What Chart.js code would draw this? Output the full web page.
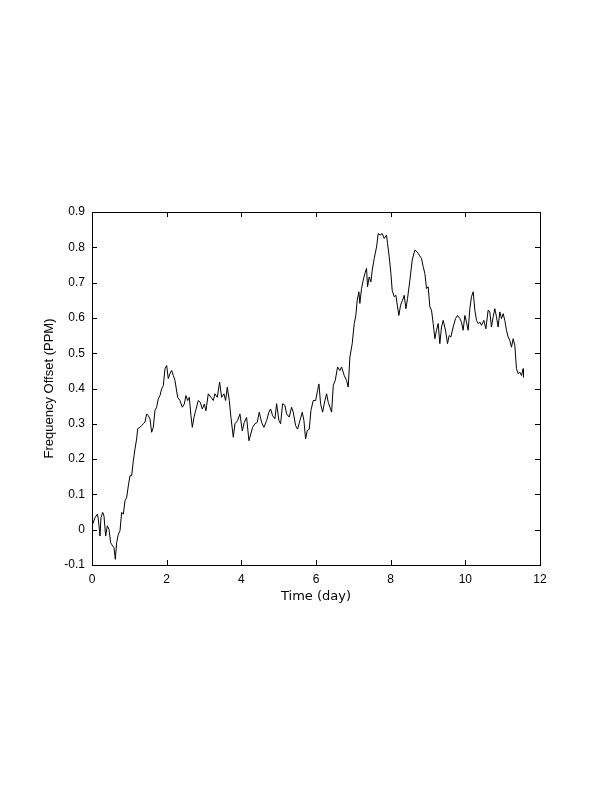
<!DOCTYPE html>
<html>
<head>
<meta charset="utf-8">
<script src="https://cdn.jsdelivr.net/npm/chart.js@4/dist/chart.umd.min.js"></script>
<style>
  html, body { margin: 0; padding: 0; background: #fff; }
  #wrap { width: 612px; height: 792px; }
</style>
</head>
<body>
<div id="wrap"><canvas id="freqChart" width="612" height="792"></canvas></div>
<script>
// time in days
const days = [
    0.018, 0.08, 0.143, 0.17, 0.214, 0.241, 0.286, 0.321, 0.366, 0.41, 0.455, 0.5, 0.553, 0.589, 0.625, 0.66,
    0.705, 0.75, 0.794, 0.839, 0.884, 0.928, 0.973, 1.017, 1.062, 1.107, 1.151, 1.196, 1.223, 1.285, 1.33,
    1.374, 1.419, 1.464, 1.508, 1.553, 1.598, 1.642, 1.687, 1.732, 1.776, 1.821, 1.865, 1.91, 1.955, 2.0,
    2.043, 2.088, 2.133, 2.178, 2.222, 2.294, 2.356, 2.419, 2.472, 2.517, 2.562, 2.606, 2.651, 2.687, 2.731,
    2.776, 2.847, 2.9, 2.954, 3.008, 3.052, 3.115, 3.186, 3.249, 3.293, 3.356, 3.418, 3.472, 3.534, 3.579,
    3.624, 3.677, 3.722, 3.784, 3.829, 3.9, 3.963, 4.025, 4.079, 4.141, 4.204,
    4.302, 4.364, 4.427, 4.48, 4.543, 4.605, 4.677, 4.739, 4.784, 4.837, 4.9, 4.945, 5.007, 5.052, 5.105,
    5.168, 5.212, 5.284, 5.346, 5.391, 5.453, 5.507, 5.57, 5.632, 5.677, 5.721, 5.766, 5.82, 5.864, 5.927,
    5.989, 6.042, 6.078, 6.123, 6.177, 6.239, 6.284, 6.328, 6.373, 6.418, 6.463, 6.516,
    6.578, 6.64, 6.685, 6.756, 6.818, 6.863, 6.908, 6.97, 7.024, 7.068, 7.104, 7.149, 7.175, 7.22, 7.265,
    7.309, 7.354, 7.381, 7.425, 7.47, 7.506, 7.559, 7.622, 7.667, 7.72, 7.774, 7.827, 7.889, 7.916, 7.961,
    8.006, 8.041, 8.095, 8.14, 8.184, 8.22, 8.265, 8.318, 8.363, 8.408, 8.452, 8.515, 8.577,
    8.648, 8.71, 8.764, 8.827, 8.871, 8.916, 8.96, 9.005, 9.05, 9.094, 9.139, 9.184, 9.228, 9.273, 9.317,
    9.362, 9.407, 9.469, 9.523, 9.567, 9.612, 9.674, 9.737, 9.79, 9.853, 9.897, 9.942, 9.987, 10.031, 10.076,
    10.121, 10.165, 10.21, 10.255, 10.299, 10.344, 10.389, 10.433, 10.496, 10.55,
    10.611, 10.656, 10.7, 10.745, 10.79, 10.834, 10.879, 10.924, 10.968, 11.013, 11.058, 11.102, 11.147,
    11.192, 11.236, 11.281, 11.326, 11.37, 11.415, 11.46, 11.504, 11.549, 11.558
];

// frequency offset in PPM
const offsets = [
    0.016, 0.034, 0.044, 0.030, -0.018, 0.034, 0.049, 0.039, -0.018, 0.011, 0.001, -0.037, -0.046, -0.051, -0.084, -0.037,
    -0.013, -0.003, 0.049, 0.044, 0.082, 0.091, 0.124, 0.153, 0.153, 0.195, 0.229, 0.257, 0.286, 0.290, 0.295,
    0.300, 0.305, 0.328, 0.323, 0.314, 0.276, 0.290, 0.338, 0.347, 0.371, 0.380, 0.399, 0.408, 0.456, 0.465,
    0.428, 0.442, 0.451, 0.437, 0.423, 0.375, 0.366, 0.347, 0.356, 0.380, 0.366, 0.375, 0.323, 0.290, 0.318,
    0.337, 0.366, 0.361, 0.342, 0.356, 0.337, 0.385, 0.375, 0.366, 0.385, 0.375, 0.418, 0.375, 0.385, 0.366,
    0.404, 0.366, 0.318, 0.262, 0.300, 0.309, 0.328, 0.280, 0.304, 0.318, 0.252,
    0.290, 0.300, 0.304, 0.333, 0.304, 0.290, 0.309, 0.333, 0.342, 0.323, 0.314, 0.357, 0.309, 0.300, 0.357,
    0.352, 0.328, 0.319, 0.347, 0.333, 0.295, 0.285, 0.309, 0.333, 0.309, 0.257, 0.281, 0.285, 0.338, 0.366,
    0.366, 0.394, 0.413, 0.357, 0.333, 0.366, 0.385, 0.361, 0.347, 0.333, 0.409, 0.423,
    0.461, 0.451, 0.461, 0.437, 0.423, 0.404, 0.489, 0.527, 0.584, 0.607, 0.650, 0.674, 0.641, 0.683, 0.707,
    0.726, 0.740, 0.688, 0.716, 0.702, 0.735, 0.768, 0.801, 0.839, 0.835, 0.839, 0.825, 0.835, 0.811, 0.773,
    0.726, 0.678, 0.660, 0.664, 0.631, 0.607, 0.636, 0.650, 0.664, 0.626, 0.655, 0.707, 0.764,
    0.792, 0.787, 0.778, 0.768, 0.745, 0.726, 0.683, 0.688, 0.631, 0.622, 0.584, 0.541, 0.565, 0.584, 0.527,
    0.574, 0.593, 0.565, 0.527, 0.550, 0.546, 0.574, 0.598, 0.607, 0.598, 0.588, 0.565, 0.607, 0.588, 0.565,
    0.626, 0.660, 0.674, 0.622, 0.593, 0.584, 0.588, 0.579, 0.593, 0.569,
    0.622, 0.617, 0.574, 0.603, 0.626, 0.603, 0.574, 0.617, 0.598, 0.612, 0.593, 0.565, 0.546,
    0.536, 0.517, 0.541, 0.522, 0.456, 0.442, 0.446, 0.437, 0.456, 0.432
];

const xTicks = [0, 2, 4, 6, 8, 10, 12];
const yTicks = [-0.1, 0, 0.1, 0.2, 0.3, 0.4, 0.5, 0.6, 0.7, 0.8, 0.9];

const points = days.map((d, i) => ({ x: d, y: offsets[i] }));

function fmtY(v) {
    if (Math.abs(v) < 1e-9) return '0';
    return (Math.round(v * 10) / 10).toString();
}

// box around the axes plus inward tick marks on all four sides
const frameTicks = {
    id: 'frameTicks',
    afterDraw(chart) {
        const { ctx, chartArea: a, scales } = chart;
        const len = 5;
        ctx.save();
        ctx.strokeStyle = '#000';
        ctx.lineWidth = 1;
        ctx.strokeRect(Math.round(a.left) + 0.5, Math.round(a.top) + 0.5,
            Math.round(a.right - a.left), Math.round(a.bottom - a.top));
        ctx.beginPath();
        xTicks.forEach(t => {
            const px = Math.round(scales.x.getPixelForValue(t)) + 0.5;
            ctx.moveTo(px, a.bottom); ctx.lineTo(px, a.bottom - len);
            ctx.moveTo(px, a.top); ctx.lineTo(px, a.top + len);
        });
        yTicks.forEach(t => {
            const py = Math.round(scales.y.getPixelForValue(t)) + 0.5;
            ctx.moveTo(a.left, py); ctx.lineTo(a.left + len, py);
            ctx.moveTo(a.right, py); ctx.lineTo(a.right - len, py);
        });
        ctx.stroke();
        ctx.restore();
    }
};

const font = { family: "'Liberation Sans', Arial, Helvetica, sans-serif", size: 12 };

new Chart(document.getElementById('freqChart'), {
    type: 'line',
    data: {
        datasets: [{
            data: points,
            borderColor: '#000',
            borderWidth: 1,
            pointRadius: 0,
            tension: 0,
            fill: false
        }]
    },
    options: {
        responsive: false,
        animation: false,
        events: [],
        layout: { padding: { left: 38, top: 212, right: 72, bottom: 184 } },
        plugins: { legend: { display: false }, tooltip: { enabled: false } },
        scales: {
            x: {
                type: 'linear',
                min: 0,
                max: 12,
                afterFit: s => { s.height = 43; },
                afterBuildTicks: s => { s.ticks = xTicks.map(v => ({ value: v })); },
                grid: { display: false, drawTicks: false },
                border: { display: false },
                ticks: { color: '#000', font: font, padding: 7, maxRotation: 0 },
                title: { display: true, text: 'Time (day)', color: '#000', font: { family: "'DejaVu Sans', sans-serif", size: 13 } }
            },
            y: {
                type: 'linear',
                min: -0.1,
                max: 0.9,
                afterFit: s => { s.width = 54; },
                afterBuildTicks: s => { s.ticks = yTicks.map(v => ({ value: v })); },
                grid: { display: false, drawTicks: false },
                border: { display: false },
                ticks: { color: '#000', font: font, padding: 7, callback: v => fmtY(v) },
                title: { display: true, text: 'Frequency Offset (PPM)', color: '#000', font: { ...font, size: 13 } }
            }
        }
    },
    plugins: [frameTicks]
});
</script>
</body>
</html>
